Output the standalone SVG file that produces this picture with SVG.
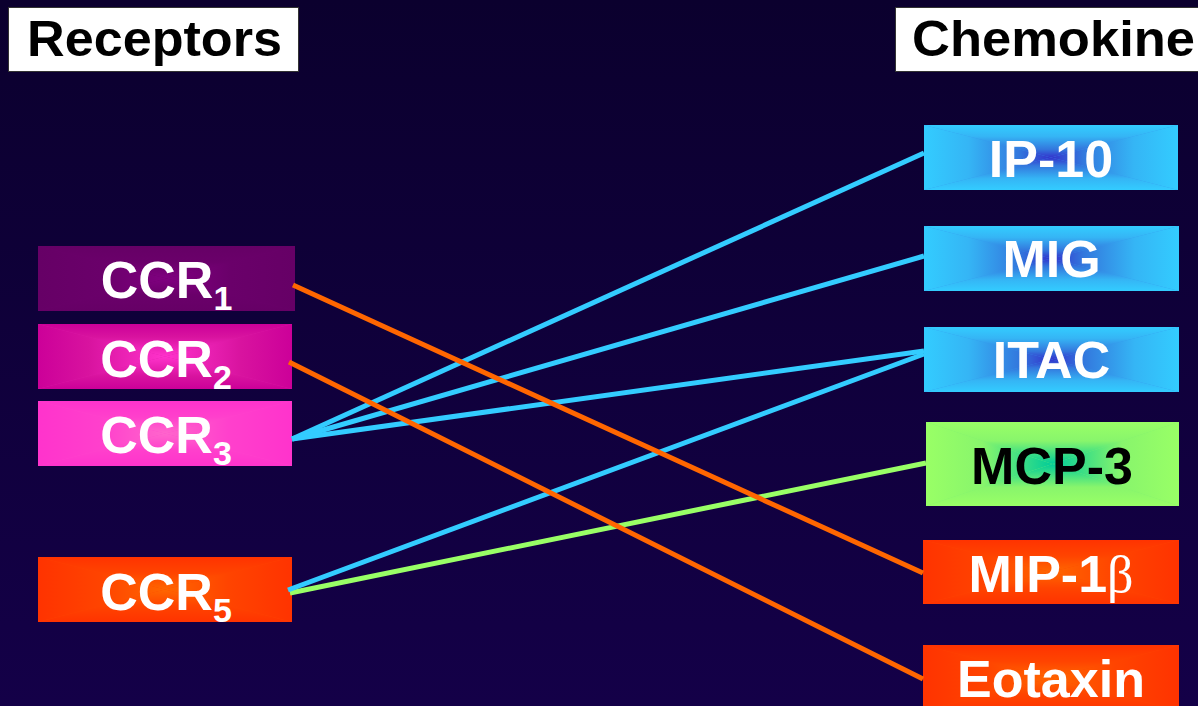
<svg xmlns="http://www.w3.org/2000/svg" xmlns:xlink="http://www.w3.org/1999/xlink" width="1198" height="706" viewBox="0 0 1198 706">
  <defs>
    <linearGradient id="bg" x1="0" y1="0" x2="0" y2="1">
      <stop offset="0" stop-color="#0b002e"/>
      <stop offset="1" stop-color="#140048"/>
    </linearGradient>

    <!-- base stops: edge colour at 0, centre colour at 1 -->
    <linearGradient id="gPurple"><stop offset="0" stop-color="#660066"/><stop offset="0.5" stop-color="#6a006a"/><stop offset="1" stop-color="#800080"/></linearGradient>
    <linearGradient id="gMagenta"><stop offset="0" stop-color="#cc0099"/><stop offset="0.4" stop-color="#d8139f"/><stop offset="1" stop-color="#ff33cc"/></linearGradient>
    <linearGradient id="gPink"><stop offset="0" stop-color="#ff33cc"/><stop offset="0.5" stop-color="#ff40cc"/><stop offset="1" stop-color="#ff66cc"/></linearGradient>
    <linearGradient id="gOrange"><stop offset="0" stop-color="#ff3300"/><stop offset="0.5" stop-color="#ff4400"/><stop offset="1" stop-color="#ff6600"/></linearGradient>
    <linearGradient id="gBlue"><stop offset="0" stop-color="#33ccff"/><stop offset="0.35" stop-color="#35b5f5"/><stop offset="0.75" stop-color="#3377dd"/><stop offset="1" stop-color="#3333cc"/></linearGradient>
    <linearGradient id="gGreen"><stop offset="0" stop-color="#99ff66"/><stop offset="0.45" stop-color="#88f56c"/><stop offset="1" stop-color="#00cc99"/></linearGradient>

    <!-- four directions per scheme, sharing the stops above -->
    <linearGradient id="gPurpleT" href="#gPurple" xlink:href="#gPurple" x1="0" y1="0" x2="0" y2="1"/>
    <linearGradient id="gPurpleB" href="#gPurple" xlink:href="#gPurple" x1="0" y1="1" x2="0" y2="0"/>
    <linearGradient id="gPurpleL" href="#gPurple" xlink:href="#gPurple" x1="0" y1="0" x2="1" y2="0"/>
    <linearGradient id="gPurpleR" href="#gPurple" xlink:href="#gPurple" x1="1" y1="0" x2="0" y2="0"/>

    <linearGradient id="gMagentaT" href="#gMagenta" xlink:href="#gMagenta" x1="0" y1="0" x2="0" y2="1"/>
    <linearGradient id="gMagentaB" href="#gMagenta" xlink:href="#gMagenta" x1="0" y1="1" x2="0" y2="0"/>
    <linearGradient id="gMagentaL" href="#gMagenta" xlink:href="#gMagenta" x1="0" y1="0" x2="1" y2="0"/>
    <linearGradient id="gMagentaR" href="#gMagenta" xlink:href="#gMagenta" x1="1" y1="0" x2="0" y2="0"/>

    <linearGradient id="gPinkT" href="#gPink" xlink:href="#gPink" x1="0" y1="0" x2="0" y2="1"/>
    <linearGradient id="gPinkB" href="#gPink" xlink:href="#gPink" x1="0" y1="1" x2="0" y2="0"/>
    <linearGradient id="gPinkL" href="#gPink" xlink:href="#gPink" x1="0" y1="0" x2="1" y2="0"/>
    <linearGradient id="gPinkR" href="#gPink" xlink:href="#gPink" x1="1" y1="0" x2="0" y2="0"/>

    <linearGradient id="gOrangeT" href="#gOrange" xlink:href="#gOrange" x1="0" y1="0" x2="0" y2="1"/>
    <linearGradient id="gOrangeB" href="#gOrange" xlink:href="#gOrange" x1="0" y1="1" x2="0" y2="0"/>
    <linearGradient id="gOrangeL" href="#gOrange" xlink:href="#gOrange" x1="0" y1="0" x2="1" y2="0"/>
    <linearGradient id="gOrangeR" href="#gOrange" xlink:href="#gOrange" x1="1" y1="0" x2="0" y2="0"/>

    <linearGradient id="gBlueT" href="#gBlue" xlink:href="#gBlue" x1="0" y1="0" x2="0" y2="1"/>
    <linearGradient id="gBlueB" href="#gBlue" xlink:href="#gBlue" x1="0" y1="1" x2="0" y2="0"/>
    <linearGradient id="gBlueL" href="#gBlue" xlink:href="#gBlue" x1="0" y1="0" x2="1" y2="0"/>
    <linearGradient id="gBlueR" href="#gBlue" xlink:href="#gBlue" x1="1" y1="0" x2="0" y2="0"/>

    <linearGradient id="gGreenT" href="#gGreen" xlink:href="#gGreen" x1="0" y1="0" x2="0" y2="1"/>
    <linearGradient id="gGreenB" href="#gGreen" xlink:href="#gGreen" x1="0" y1="1" x2="0" y2="0"/>
    <linearGradient id="gGreenL" href="#gGreen" xlink:href="#gGreen" x1="0" y1="0" x2="1" y2="0"/>
    <linearGradient id="gGreenR" href="#gGreen" xlink:href="#gGreen" x1="1" y1="0" x2="0" y2="0"/>
  </defs>

  <style>
    .heading-box { fill: #ffffff; stroke: #333333; stroke-width: 1; }
    .heading { font-family: "Liberation Sans", Arial, sans-serif; font-weight: bold; font-size: 50px; fill: #000000; }
    .label { font-family: "Liberation Sans", Arial, sans-serif; font-weight: bold; font-size: 52px; fill: #ffffff; text-anchor: middle; }
    .label.dark { fill: #000000; }
    .sub { font-size: 34px; }
    .greek { font-family: "Liberation Serif", "Times New Roman", serif; font-weight: normal; }
    .link { fill: none; stroke-width: 5; stroke-linecap: butt; }
    .orange { stroke: #ff6600; }
    .blue { stroke: #33ccff; }
    .green { stroke: #99ff66; }

    .purple .base { fill: #6a006a; }
    .purple .t { fill: url(#gPurpleT); } .purple .b { fill: url(#gPurpleB); }
    .purple .l { fill: url(#gPurpleL); } .purple .r { fill: url(#gPurpleR); }
    .magenta .base { fill: #dd1aa8; }
    .magenta .t { fill: url(#gMagentaT); } .magenta .b { fill: url(#gMagentaB); }
    .magenta .l { fill: url(#gMagentaL); } .magenta .r { fill: url(#gMagentaR); }
    .pink .base { fill: #ff44cc; }
    .pink .t { fill: url(#gPinkT); } .pink .b { fill: url(#gPinkB); }
    .pink .l { fill: url(#gPinkL); } .pink .r { fill: url(#gPinkR); }
    .orangebox .base { fill: #ff4400; }
    .orangebox .t { fill: url(#gOrangeT); } .orangebox .b { fill: url(#gOrangeB); }
    .orangebox .l { fill: url(#gOrangeL); } .orangebox .r { fill: url(#gOrangeR); }
    .bluebox .base { fill: #3399ee; }
    .bluebox .t { fill: url(#gBlueT); } .bluebox .b { fill: url(#gBlueB); }
    .bluebox .l { fill: url(#gBlueL); } .bluebox .r { fill: url(#gBlueR); }
    .greenbox .base { fill: #80f070; }
    .greenbox .t { fill: url(#gGreenT); } .greenbox .b { fill: url(#gGreenB); }
    .greenbox .l { fill: url(#gGreenL); } .greenbox .r { fill: url(#gGreenR); }
  </style>

  <rect x="0" y="0" width="1198" height="706" fill="url(#bg)"/>

  <!-- column headings -->
  <g id="heading-receptors">
    <rect class="heading-box" x="8.5" y="7.5" width="290" height="64"/>
    <text class="heading" x="27" y="56" textLength="255" lengthAdjust="spacingAndGlyphs">Receptors</text>
  </g>
  <g id="heading-chemokine">
    <rect class="heading-box" x="895.5" y="7.5" width="320" height="64"/>
    <text class="heading" x="912" y="56" textLength="283" lengthAdjust="spacingAndGlyphs">Chemokine</text>
  </g>

  <!-- receptor boxes (each box: base rect + four shaded triangles towards the centre) -->
  <g id="ccr1" class="purple">
    <rect class="base" x="38" y="246" width="257" height="65"/>
    <polygon class="t" points="38,246 295,246 166.5,278.5"/>
    <polygon class="b" points="38,311 295,311 166.5,278.5"/>
    <polygon class="l" points="38,246 38,311 166.5,278.5"/>
    <polygon class="r" points="295,246 295,311 166.5,278.5"/>
    <text class="label" x="166.5" y="298">CCR<tspan class="sub" dy="12">1</tspan></text>
  </g>
  <g id="ccr2" class="magenta">
    <rect class="base" x="38" y="324" width="254" height="65"/>
    <polygon class="t" points="38,324 292,324 165,356.5"/>
    <polygon class="b" points="38,389 292,389 165,356.5"/>
    <polygon class="l" points="38,324 38,389 165,356.5"/>
    <polygon class="r" points="292,324 292,389 165,356.5"/>
    <text class="label" x="166" y="377">CCR<tspan class="sub" dy="12">2</tspan></text>
  </g>
  <g id="ccr3" class="pink">
    <rect class="base" x="38" y="401" width="254" height="65"/>
    <polygon class="t" points="38,401 292,401 165,433.5"/>
    <polygon class="b" points="38,466 292,466 165,433.5"/>
    <polygon class="l" points="38,401 38,466 165,433.5"/>
    <polygon class="r" points="292,401 292,466 165,433.5"/>
    <text class="label" x="166" y="453">CCR<tspan class="sub" dy="12">3</tspan></text>
  </g>
  <g id="ccr5" class="orangebox">
    <rect class="base" x="38" y="557" width="254" height="65"/>
    <polygon class="t" points="38,557 292,557 165,589.5"/>
    <polygon class="b" points="38,622 292,622 165,589.5"/>
    <polygon class="l" points="38,557 38,622 165,589.5"/>
    <polygon class="r" points="292,557 292,622 165,589.5"/>
    <text class="label" x="166" y="610">CCR<tspan class="sub" dy="12">5</tspan></text>
  </g>

  <!-- chemokine boxes -->
  <g id="ip10" class="bluebox">
    <rect class="base" x="924" y="125" width="254" height="65"/>
    <polygon class="t" points="924,125 1178,125 1051,157.5"/>
    <polygon class="b" points="924,190 1178,190 1051,157.5"/>
    <polygon class="l" points="924,125 924,190 1051,157.5"/>
    <polygon class="r" points="1178,125 1178,190 1051,157.5"/>
    <text class="label" x="1051" y="177">IP-10</text>
  </g>
  <g id="mig" class="bluebox">
    <rect class="base" x="924" y="226" width="255" height="65"/>
    <polygon class="t" points="924,226 1179,226 1051.5,258.5"/>
    <polygon class="b" points="924,291 1179,291 1051.5,258.5"/>
    <polygon class="l" points="924,226 924,291 1051.5,258.5"/>
    <polygon class="r" points="1179,226 1179,291 1051.5,258.5"/>
    <text class="label" x="1051.5" y="277">MIG</text>
  </g>
  <g id="itac" class="bluebox">
    <rect class="base" x="924" y="327" width="255" height="65"/>
    <polygon class="t" points="924,327 1179,327 1051.5,359.5"/>
    <polygon class="b" points="924,392 1179,392 1051.5,359.5"/>
    <polygon class="l" points="924,327 924,392 1051.5,359.5"/>
    <polygon class="r" points="1179,327 1179,392 1051.5,359.5"/>
    <text class="label" x="1051.5" y="378">ITAC</text>
  </g>
  <g id="mcp3" class="greenbox">
    <rect class="base" x="926" y="422" width="253" height="84"/>
    <polygon class="t" points="926,422 1179,422 1052.5,464"/>
    <polygon class="b" points="926,506 1179,506 1052.5,464"/>
    <polygon class="l" points="926,422 926,506 1052.5,464"/>
    <polygon class="r" points="1179,422 1179,506 1052.5,464"/>
    <text class="label dark" x="1052" y="484">MCP-3</text>
  </g>
  <g id="mip1b" class="orangebox">
    <rect class="base" x="923" y="540" width="256" height="64"/>
    <polygon class="t" points="923,540 1179,540 1051,572"/>
    <polygon class="b" points="923,604 1179,604 1051,572"/>
    <polygon class="l" points="923,540 923,604 1051,572"/>
    <polygon class="r" points="1179,540 1179,604 1051,572"/>
    <text class="label" x="1051" y="592">MIP-1<tspan class="greek">β</tspan></text>
  </g>
  <g id="eotaxin" class="orangebox">
    <rect class="base" x="923" y="645" width="256" height="66"/>
    <polygon class="t" points="923,645 1179,645 1051,678"/>
    <polygon class="b" points="923,711 1179,711 1051,678"/>
    <polygon class="l" points="923,645 923,711 1051,678"/>
    <polygon class="r" points="1179,645 1179,711 1051,678"/>
    <text class="label" x="1051" y="697">Eotaxin</text>
  </g>

  <!-- receptor-to-chemokine connectors -->
  <g id="connectors">
    <line class="link green" x1="290" y1="593" x2="926" y2="463"/>
    <line class="link blue" x1="288" y1="590" x2="924" y2="354"/>
    <line class="link blue" x1="292" y1="439" x2="924" y2="153"/>
    <line class="link blue" x1="292" y1="439" x2="924" y2="256"/>
    <line class="link blue" x1="292" y1="439" x2="924" y2="351"/>
    <line class="link orange" x1="293" y1="285" x2="923" y2="573"/>
    <line class="link orange" x1="289" y1="362" x2="923" y2="679"/>
  </g>
</svg>
